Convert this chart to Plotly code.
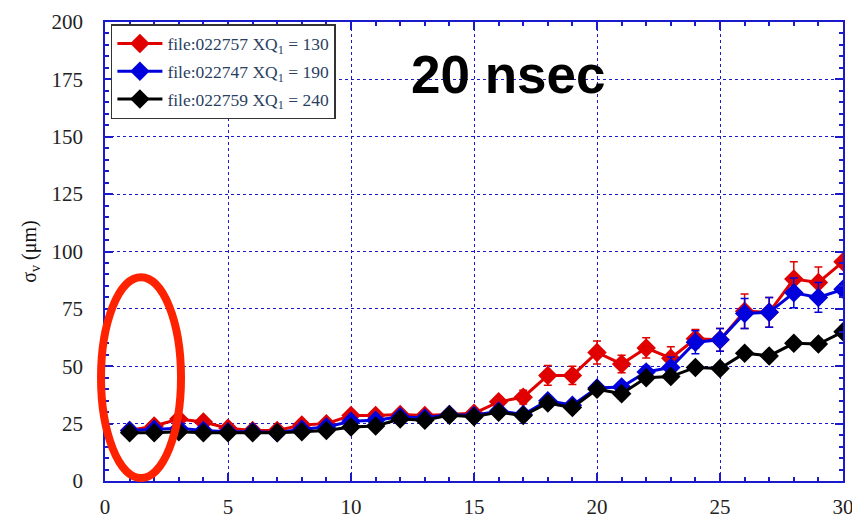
import plotly.graph_objects as go

x_vals = list(range(1, 31))

red_y = [22, 24, 27, 25.7, 23, 22, 22, 24.4, 25, 28.5, 28.5, 29, 28.5, 29, 29.5,
         34.5, 36.5, 46, 46, 56, 51, 58, 53.5, 62, 61.5, 74, 73.5, 88, 86.5, 95.5]
red_err = [1, 1, 1, 1, 1, 1, 1, 1, 1, 1.5, 1.5, 1.5, 1.5, 1.5, 1.5,
           2, 3, 4.3, 4, 5, 3.8, 4.4, 5, 4, 5, 7.5, 6.5, 7.5, 6.8, 2]

blue_y = [22, 22.5, 23, 22, 21.5, 21.5, 21, 22.5, 23.5, 26, 26.5, 28, 27.5, 29, 28.5,
          30.5, 29, 35, 33, 40.5, 41, 47.5, 49.5, 60.5, 61.5, 73, 73.5, 82, 80, 83.5]
blue_err = [1, 1, 1, 1, 1, 1, 1, 1, 1, 1.2, 1.2, 1.2, 1.2, 1.2, 1.2,
            1.5, 1.5, 1.5, 1.5, 2, 2, 2.5, 4.5, 5, 5, 6.5, 6.5, 6.5, 6.5, 2.5]

black_y = [21, 21, 21.5, 21, 21, 21, 21, 21.5, 22, 23.5, 24, 27, 26.5, 28.7, 28,
           30, 28.5, 34, 32, 40, 38, 45, 45.5, 49.5, 49, 55.7, 54.5, 60, 59.7, 65]
black_err = [1] * 15 + [2] * 15

series_names = ["file:022757 XQ<sub>1</sub> = 130",
                "file:022747 XQ<sub>1</sub> = 190",
                "file:022759 XQ<sub>1</sub> = 240"]
series_colors = ["#e00000", "#0000dd", "#000000"]
series_y = [red_y, blue_y, black_y]
series_err = [red_err, blue_err, black_err]

x_ticks = [0, 5, 10, 15, 20, 25, 30]
y_ticks = [0, 25, 50, 75, 100, 125, 150, 175, 200]

fig = go.Figure()
for i, (name, col, yv, ev) in enumerate(zip(series_names, series_colors, series_y, series_err)):
    fig.add_trace(go.Scatter(
        x=x_vals, y=yv, name=name, mode="lines+markers", legendgroup=f"g{i}",
        line=dict(color=col, width=3),
        marker=dict(symbol="diamond", size=15, color=col),
        error_y=dict(type="data", array=ev, visible=True, color=col,
                     thickness=1.5, width=4),
    ))

axis_col = "#1a1acc"
serif = "Liberation Serif"
common = dict(
    showline=True, linecolor=axis_col, linewidth=1.5, mirror="allticks",
    ticks="inside", tickcolor=axis_col, ticklen=8, tickwidth=1.5,
    showgrid=True, gridcolor=axis_col, griddash="dot", gridwidth=1,
    zeroline=False, automargin=False, ticklabeloverflow="allow",
    tickfont=dict(family=serif, size=21, color="#222222"),
)

fig.update_xaxes(range=[0, 30], tickvals=x_ticks, ticklabelstandoff=6,
                 minor=dict(dtick=1, ticks="inside", ticklen=4, tickcolor=axis_col, showgrid=False),
                 **common)
fig.update_yaxes(range=[0, 200], tickvals=y_ticks, ticklabelstandoff=16,
                 minor=dict(dtick=5, ticks="inside", ticklen=4, tickcolor=axis_col, showgrid=False),
                 title=dict(text="σ<sub>v</sub> (μm)", font=dict(family=serif, size=20, color="#111111"),
                            standoff=10),
                 **common)

fig.update_layout(
    width=852, height=521,
    margin=dict(l=105, r=9, t=22, b=40),
    paper_bgcolor="white", plot_bgcolor="white",
    showlegend=True,
    legend=dict(x=0.008, y=0.9956, xanchor="left", yanchor="top",
                bgcolor="white", bordercolor="#333333", borderwidth=1.5,
                font=dict(family=serif, size=17.5), itemwidth=45,
                tracegroupgap=2),
    shapes=[dict(type="circle", xref="paper", yref="paper",
                 x0=-0.0054, x1=0.103, y0=0.0065, y1=0.444,
                 line=dict(color="#ff2200", width=8))],
    annotations=[dict(text="<b>20 nsec</b>", xref="paper", yref="paper",
                      x=0.546, y=0.955, showarrow=False,
                      font=dict(family="Liberation Sans", size=53, color="black"))],
)

fig.write_html("out.html")
